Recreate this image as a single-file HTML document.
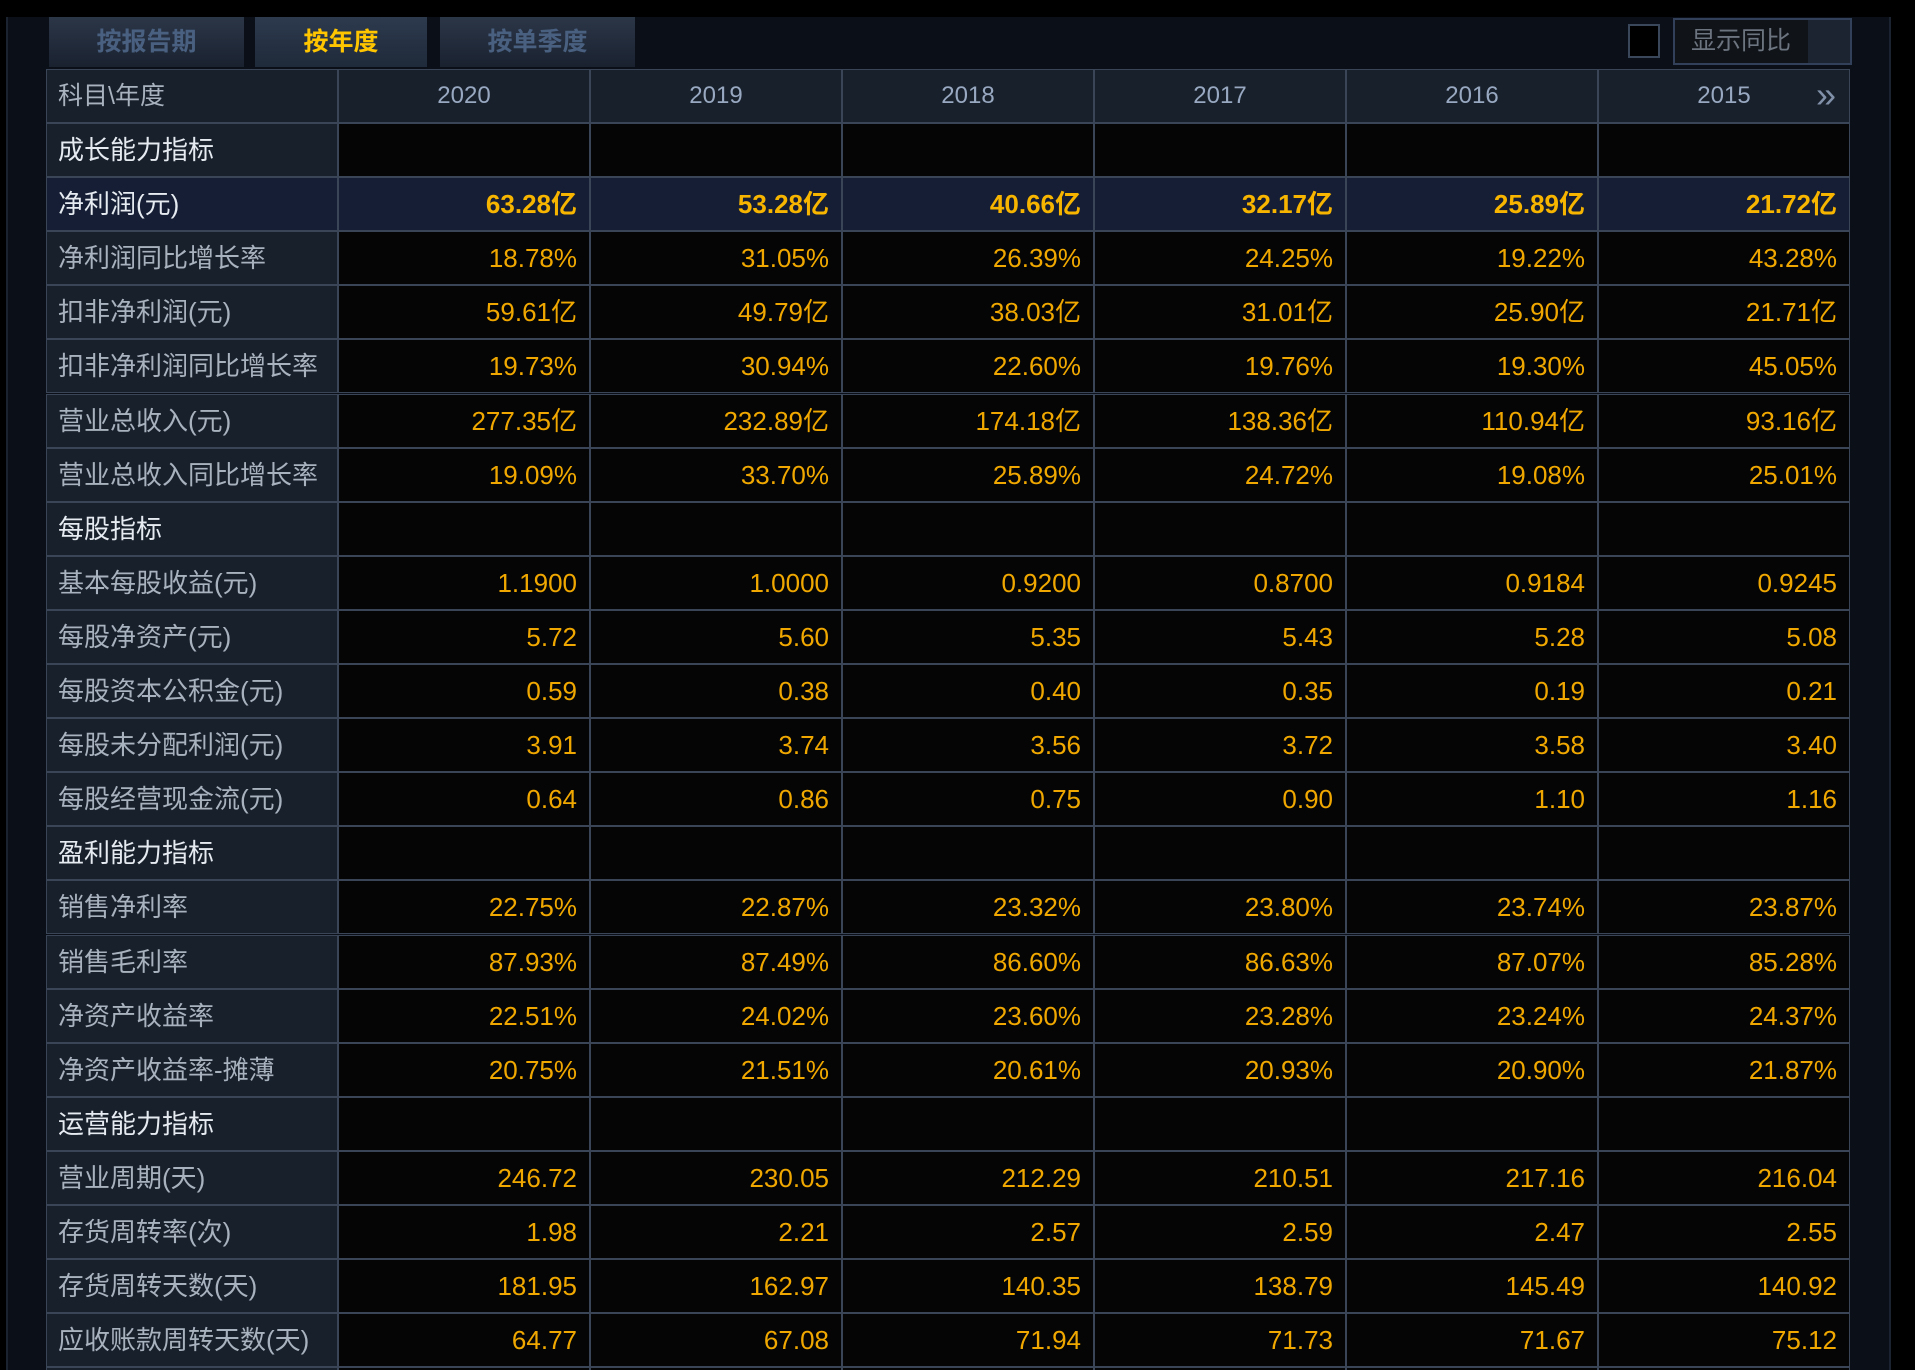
<!DOCTYPE html>
<html><head><meta charset="utf-8">
<style>
html{width:1915px;height:1370px;overflow:hidden;}
html,body{margin:0;padding:0;background:#000;}
body{width:1915px;height:1370px;position:relative;overflow:hidden;font-family:"Liberation Sans","Noto Sans CJK SC",sans-serif;}
#panel{position:absolute;left:6px;top:17px;width:1881px;height:1353px;background:#0b0f17;border-left:2px solid #1c2330;border-right:2px solid #1c2330;}
.tab{position:absolute;top:17px;height:50px;line-height:50px;text-align:center;font-size:25px;font-weight:bold;color:#4a6080;background:linear-gradient(#2b3647,#1a2230);}
.tab.on{color:#ffc600;background:linear-gradient(#2d3a4e,#1f2a3a);}
#chk{position:absolute;left:1628px;top:24px;width:28px;height:30px;border:2px solid #3a475a;background:#000;}
#dd{position:absolute;left:1673px;top:18px;width:175px;height:43px;border:2px solid #33405a;background:#101318;color:#6c7480;font-size:25px;line-height:43px;}
#dd span{padding-left:16px;}
#dd i{position:absolute;right:0;top:0;width:42px;height:43px;background:#1c2432;}
#tbl{position:absolute;left:46px;top:69px;width:1806px;height:1301px;overflow:hidden;}
.row{position:absolute;left:0;width:1804px;height:54px;}
.cell{position:absolute;top:0;height:52px;border:1px solid #3a4658;box-sizing:content-box;line-height:52px;font-size:26px;}
.lab{left:0;background:#18202c;color:#a8b2be;padding-left:11px;width:279px;}
.sec .lab{color:#e6ebf1;}
.val{width:250px;background:#050505;color:#f0a800;text-align:right;}
.val span{padding-right:12px;}
.hl .val,.hl .lab{background:#151e34;}
.hl .lab{color:#e6ebf1;}
.hl .val{color:#f7b500;font-weight:bold;}
.hdr .cell{background:#18202c;color:#98a8c0;text-align:center;font-size:24px;}
.hdr .lab{text-align:left;color:#a8b2be;font-size:25px;}
</style></head><body>
<div id="panel"></div>
<div class="tab" style="left:49px;width:195px">按报告期</div>
<div class="tab on" style="left:255px;width:172px">按年度</div>
<div class="tab" style="left:440px;width:195px">按单季度</div>
<div id="chk"></div>
<div id="dd"><span>显示同比</span><i></i></div>
<div id="tbl"></div>
<script>
const years=["2020","2019","2018","2017","2016","2015"];
const labels=["成长能力指标","净利润(元)","净利润同比增长率","扣非净利润(元)","扣非净利润同比增长率","营业总收入(元)","营业总收入同比增长率","每股指标","基本每股收益(元)","每股净资产(元)","每股资本公积金(元)","每股未分配利润(元)","每股经营现金流(元)","盈利能力指标","销售净利率","销售毛利率","净资产收益率","净资产收益率-摊薄","运营能力指标","营业周期(天)","存货周转率(次)","存货周转天数(天)","应收账款周转天数(天)",""];
const values=[
null,
["63.28亿","53.28亿","40.66亿","32.17亿","25.89亿","21.72亿"],
["18.78%","31.05%","26.39%","24.25%","19.22%","43.28%"],
["59.61亿","49.79亿","38.03亿","31.01亿","25.90亿","21.71亿"],
["19.73%","30.94%","22.60%","19.76%","19.30%","45.05%"],
["277.35亿","232.89亿","174.18亿","138.36亿","110.94亿","93.16亿"],
["19.09%","33.70%","25.89%","24.72%","19.08%","25.01%"],
null,
["1.1900","1.0000","0.9200","0.8700","0.9184","0.9245"],
["5.72","5.60","5.35","5.43","5.28","5.08"],
["0.59","0.38","0.40","0.35","0.19","0.21"],
["3.91","3.74","3.56","3.72","3.58","3.40"],
["0.64","0.86","0.75","0.90","1.10","1.16"],
null,
["22.75%","22.87%","23.32%","23.80%","23.74%","23.87%"],
["87.93%","87.49%","86.60%","86.63%","87.07%","85.28%"],
["22.51%","24.02%","23.60%","23.28%","23.24%","24.37%"],
["20.75%","21.51%","20.61%","20.93%","20.90%","21.87%"],
null,
["246.72","230.05","212.29","210.51","217.16","216.04"],
["1.98","2.21","2.57","2.59","2.47","2.55"],
["181.95","162.97","140.35","138.79","145.49","140.92"],
["64.77","67.08","71.94","71.73","71.67","75.12"],
["","","","","",""]
];
const tbl=document.getElementById('tbl');
const RH=54.1,LW=292,CW=252;
function mkRow(y,cls){const r=document.createElement('div');r.className='row '+cls;r.style.top=y+'px';tbl.appendChild(r);return r;}
const h=mkRow(0,'hdr');


const hl=document.createElement('div');hl.className='cell lab';hl.textContent='科目\\年度';


h.appendChild(hl);
years.forEach((yr,i)=>{const c=document.createElement('div');c.className='cell';c.style.left=(LW+i*CW)+'px';c.style.width='250px';c.textContent=yr;


h.appendChild(c);});
const arr=document.createElement('div');arr.textContent='»';arr.style.cssText='position:absolute;left:1770px;top:0;line-height:52px;font-size:36px;color:#8090a8;';


h.appendChild(arr);
labels.forEach((lb,k)=>{
 const v=values[k];
 const r=mkRow(Math.round(54+k*RH),(v?'':'sec ')+(k===1?'hl':''));
 
 
 const l=document.createElement('div');l.className='cell lab';l.textContent=lb;
 
 
 r.appendChild(l);
 for(let i=0;i<6;i++){const c=document.createElement('div');c.className='cell val';c.style.left=(LW+i*CW)+'px';
  const s=document.createElement('span');s.textContent=v?v[i]:'';c.appendChild(s);
  
  
  r.appendChild(c);}
});
</script>
</body></html>
